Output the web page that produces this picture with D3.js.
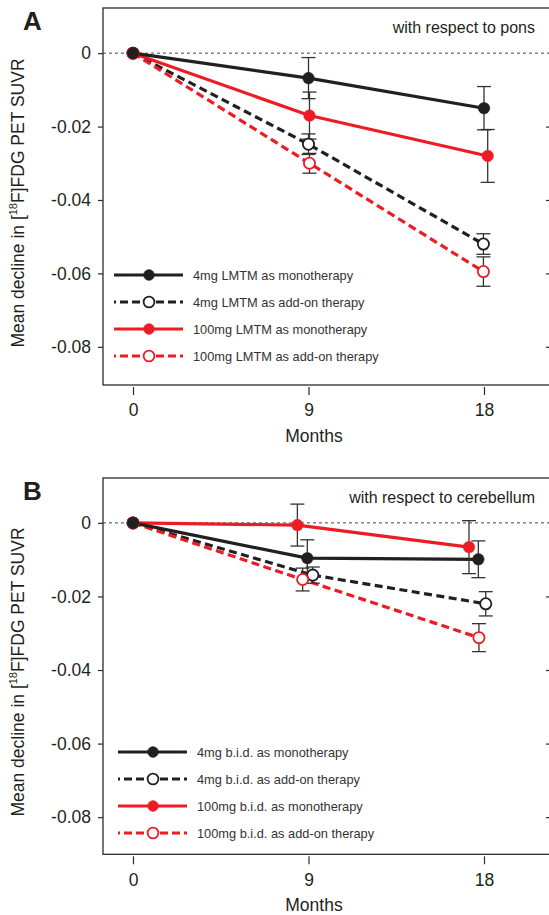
<!DOCTYPE html>
<html lang="en">
<head>
<meta charset="utf-8">
<script src="https://cdn.jsdelivr.net/npm/d3@7"></script>
<style>
  body{margin:0;background:#fff;}
  svg{display:block;font-family:"Liberation Sans",Arial,Helvetica,sans-serif;}
</style>
</head>
<body>
<svg id="chart" width="549" height="915"></svg>
<script>
// x axis (months) and y ticks
var months = [0, 9, 18];
var yTicks = [0, -0.02, -0.04, -0.06, -0.08];

// panel A - with respect to pons
var ponsLegend = ["4mg LMTM as monotherapy", "4mg LMTM as add-on therapy",
                  "100mg LMTM as monotherapy", "100mg LMTM as add-on therapy"];
var ponsMono4      = [0, -0.0068, -0.0150];
var ponsAddon4     = [0, -0.0248, -0.0520];
var ponsMono100    = [0, -0.0170, -0.0280];
var ponsAddon100   = [0, -0.0300, -0.0595];
var ponsMono4Err    = [0, 0.0056, 0.0059];
var ponsAddon4Err   = [0, 0.0028, 0.0028];
var ponsMono100Err  = [0, 0.0064, 0.0072];
var ponsAddon100Err = [0, 0.0027, 0.0040];
// plotted month positions (points are slightly dodged)
var ponsMono4X    = [0, 9, 18];
var ponsAddon4X   = [0, 9, 17.97];
var ponsMono100X  = [0, 9.05, 18.19];
var ponsAddon100X = [0, 9.05, 17.97];

// panel B - with respect to cerebellum
var cerebLegend = ["4mg b.i.d. as monotherapy", "4mg b.i.d. as add-on therapy",
                   "100mg b.i.d. as monotherapy", "100mg b.i.d. as add-on therapy"];
var cerebMono4      = [0, -0.0096, -0.0099];
var cerebAddon4     = [0, -0.0142, -0.0220];
var cerebMono100    = [0, -0.0006, -0.0066];
var cerebAddon100   = [0, -0.0154, -0.0312];
var cerebMono4Err    = [0, 0.0050, 0.0050];
var cerebAddon4Err   = [0, 0.0022, 0.0033];
var cerebMono100Err  = [0, 0.0057, 0.0072];
var cerebAddon100Err = [0, 0.0031, 0.0038];
var cerebMono4X    = [0, 8.94, 17.71];
var cerebAddon4X   = [0, 9.22, 18.09];
var cerebMono100X  = [0, 8.43, 17.23];
var cerebAddon100X = [0, 8.70, 17.74];

var black = "#231f20", red = "#ed1c24";
var styles = {
  mono4:    {color: black, dashed: false, filled: true},
  addon4:   {color: black, dashed: true,  filled: false},
  mono100:  {color: red,   dashed: false, filled: true},
  addon100: {color: red,   dashed: true,  filled: false}
};

var svg = d3.select("#chart");

var drawPanel = function(cfg){
  var g = svg.append("g");
  var x = d3.scaleLinear().domain([0, 18]).range([133, 484]);
  var y = d3.scaleLinear().domain(cfg.yDomain).range([cfg.bottom, cfg.top]);

  // frame (right side falls just outside the picture)
  g.append("rect")
    .attr("x", 103).attr("y", cfg.top)
    .attr("width", 448).attr("height", cfg.bottom - cfg.top)
    .attr("fill", "none").attr("stroke", "#2b2b2b").attr("stroke-width", 1.3);

  // zero reference
  g.append("line")
    .attr("x1", 103).attr("x2", 549)
    .attr("y1", y(0)).attr("y2", y(0))
    .attr("stroke", "#444").attr("stroke-width", 1)
    .attr("stroke-dasharray", "3,3");

  // left axis
  var yAxis = d3.axisLeft(y).tickValues(yTicks).tickSize(5).tickPadding(7)
    .tickFormat(function(d){ return d === 0 ? "0" : d.toFixed(2); });
  var ya = g.append("g").attr("transform", "translate(103,0)").call(yAxis);
  ya.select(".domain").remove();
  ya.selectAll("line").attr("stroke", "#2b2b2b").attr("stroke-width", 1.2);
  ya.selectAll("text").attr("font-size", 17.5).attr("fill", black)
    .attr("font-family", "Liberation Sans, Arial, sans-serif");

  // right axis ticks pointing inward
  var ra = g.append("g").attr("transform", "translate(551,0)")
    .call(d3.axisLeft(y).tickValues(yTicks.slice(1)).tickSize(5).tickFormat(""));
  ra.select(".domain").remove();
  ra.selectAll("line").attr("stroke", "#2b2b2b").attr("stroke-width", 1.2);

  // bottom axis (detached)
  var xa = g.append("g").attr("transform", "translate(0," + (cfg.bottom + 2) + ")")
    .call(d3.axisBottom(x).tickValues(months).tickSize(8).tickPadding(9));
  xa.select(".domain").remove();
  xa.selectAll("line").attr("stroke", "#2b2b2b").attr("stroke-width", 1.2);
  xa.selectAll("text").attr("font-size", 17.5).attr("fill", black)
    .attr("font-family", "Liberation Sans, Arial, sans-serif");

  g.append("text")
    .attr("x", 314).attr("y", cfg.bottom + 57)
    .attr("text-anchor", "middle").attr("font-size", 17.5).attr("fill", black)
    .text("Months");

  // y title
  var yt = g.append("text")
    .attr("transform", "translate(24," + cfg.titleY + ") rotate(-90)")
    .attr("text-anchor", "middle").attr("font-size", 17.5).attr("fill", black);
  yt.append("tspan").text("Mean decline in [");
  yt.append("tspan").attr("font-size", 11).attr("dy", -7).text("18");
  yt.append("tspan").attr("dy", 7).text("F]FDG PET SUVR");

  // panel letter and note
  g.append("text")
    .attr("x", 23).attr("y", cfg.top + 22)
    .attr("font-size", 26).attr("font-weight", "bold").attr("fill", black)
    .text(cfg.letter);
  g.append("text")
    .attr("x", 535).attr("y", cfg.top + 25)
    .attr("text-anchor", "end").attr("font-size", 16).attr("fill", black)
    .text(cfg.note);

  var line = d3.line().x(function(d){ return x(d[0]); }).y(function(d){ return y(d[1]); });
  var order = ["addon4", "addon100", "mono100", "mono4"];
  var byKey = {};
  cfg.series.forEach(function(s){ byKey[s.key] = s; });
  var drawn = order.map(function(k){ return byKey[k]; });

  // lines
  g.selectAll(".serie").data(drawn).enter().append("path")
    .attr("d", function(s){ return line(s.x.map(function(m, i){ return [m, s.values[i]]; })); })
    .attr("fill", "none")
    .attr("stroke", function(s){ return styles[s.key].color; })
    .attr("stroke-width", 3.2)
    .attr("stroke-dasharray", function(s){ return styles[s.key].dashed ? "8,4.5" : null; });

  // error bars
  drawn.forEach(function(s){
    s.values.forEach(function(v, i){
      var e = s.err[i];
      if(!e) return;
      var cx = x(s.x[i]);
      var eg = g.append("g").attr("stroke", "#333").attr("stroke-width", 1.3);
      eg.append("line").attr("x1", cx).attr("x2", cx).attr("y1", y(v + e)).attr("y2", y(v - e));
      eg.append("line").attr("x1", cx - 7).attr("x2", cx + 7).attr("y1", y(v + e)).attr("y2", y(v + e));
      eg.append("line").attr("x1", cx - 7).attr("x2", cx + 7).attr("y1", y(v - e)).attr("y2", y(v - e));
    });
  });

  // markers
  drawn.forEach(function(s){
    var st = styles[s.key];
    g.selectAll(null).data(s.values).enter().append("circle")
      .attr("cx", function(d, i){ return x(s.x[i]); })
      .attr("cy", function(d){ return y(d); })
      .attr("r", st.filled ? 5.8 : 5.6)
      .attr("fill", st.filled ? st.color : "#fff")
      .attr("stroke", st.color)
      .attr("stroke-width", st.filled ? 0.5 : 1.8);
  });

  // legend
  var lg = g.append("g");
  cfg.series.forEach(function(s, i){
    var st = styles[s.key];
    var ry = cfg.legendY + i * cfg.legendStep;
    lg.append("line")
      .attr("x1", cfg.legendX).attr("x2", cfg.legendX + 69)
      .attr("y1", ry).attr("y2", ry)
      .attr("stroke", st.color).attr("stroke-width", 3)
      .attr("stroke-dasharray", st.dashed ? "8,4" : null)
      .attr("stroke-dashoffset", st.dashed ? 6 : null);
    lg.append("circle")
      .attr("cx", cfg.legendX + 35).attr("cy", ry).attr("r", 5.4)
      .attr("fill", st.filled ? st.color : "#fff")
      .attr("stroke", st.color).attr("stroke-width", st.filled ? 0.5 : 1.8);
    lg.append("text")
      .attr("x", cfg.legendX + 79).attr("y", ry + 4.5)
      .attr("font-size", 12.8).attr("fill", "#333")
      .text(s.name);
  });
};

drawPanel({
  letter: "A", note: "with respect to pons",
  top: 8, bottom: 385, yDomain: [-0.0904, 0.0123], titleY: 203,
  legendX: 114, legendY: 275, legendStep: 27,
  series: [
    {key: "mono4",    name: ponsLegend[0], values: ponsMono4,    err: ponsMono4Err,    x: ponsMono4X},
    {key: "addon4",   name: ponsLegend[1], values: ponsAddon4,   err: ponsAddon4Err,   x: ponsAddon4X},
    {key: "mono100",  name: ponsLegend[2], values: ponsMono100,  err: ponsMono100Err,  x: ponsMono100X},
    {key: "addon100", name: ponsLegend[3], values: ponsAddon100, err: ponsAddon100Err, x: ponsAddon100X}
  ]
});

drawPanel({
  letter: "B", note: "with respect to cerebellum",
  top: 478, bottom: 854.3, yDomain: [-0.0901, 0.0122], titleY: 672,
  legendX: 118, legendY: 752, legendStep: 27,
  series: [
    {key: "mono4",    name: cerebLegend[0], values: cerebMono4,    err: cerebMono4Err,    x: cerebMono4X},
    {key: "addon4",   name: cerebLegend[1], values: cerebAddon4,   err: cerebAddon4Err,   x: cerebAddon4X},
    {key: "mono100",  name: cerebLegend[2], values: cerebMono100,  err: cerebMono100Err,  x: cerebMono100X},
    {key: "addon100", name: cerebLegend[3], values: cerebAddon100, err: cerebAddon100Err, x: cerebAddon100X}
  ]
});
</script>
</body>
</html>
